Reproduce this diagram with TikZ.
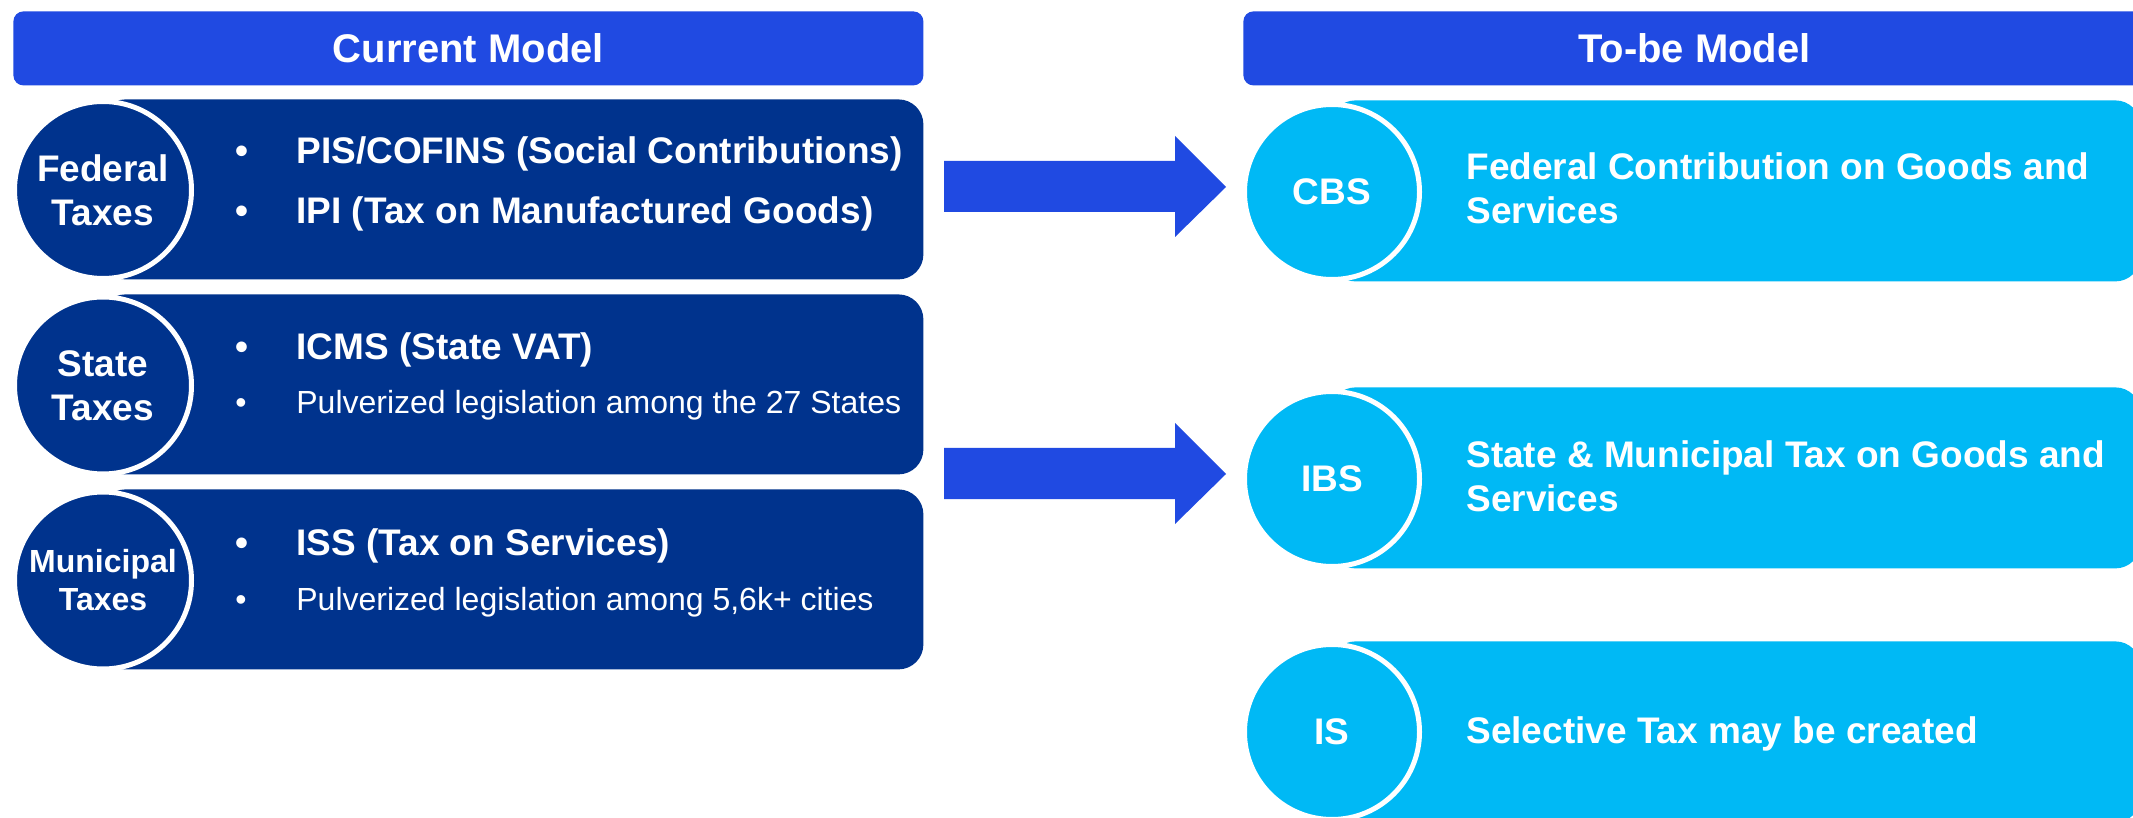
\documentclass[tikz,border=0pt]{standalone}
\usepackage{fontspec}
\setmainfont{Liberation Sans}
\definecolor{hdrblue}{RGB}{32,74,226}
\definecolor{navy}{RGB}{0,51,141}
\definecolor{cyanbox}{RGB}{0,185,245}
\begin{document}
\begin{tikzpicture}[x=0.5pt,y=-0.5pt,
  hdr/.style={fill=hdrblue, rounded corners=5pt, inner sep=0pt, text=white, anchor=north west,
    minimum height=37pt, font=\fontsize{20pt}{24pt}\selectfont\bfseries},
  bigbox/.style={rounded corners=12.5pt, inner sep=0pt, anchor=north west, minimum height=90pt},
  navybox/.style={bigbox, fill=navy, minimum width=411.5pt},
  cyanbox/.style={bigbox, fill=cyanbox, minimum width=405pt, minimum height=90.5pt},
  disc/.style={circle, draw=white, line width=2.5pt, inner sep=0pt, minimum size=88.5pt,
    text=white, align=center, font=\fontsize{18.5pt}{22pt}\selectfont\bfseries},
  navydisc/.style={disc, fill=navy},
  cyandisc/.style={disc, fill=cyanbox, minimum size=87.5pt},
  boldtxt/.style={anchor=base west, inner sep=0pt, text=white, font=\fontsize{18.5pt}{22pt}\selectfont\bfseries},
  regtxt/.style={anchor=base west, inner sep=0pt, text=white, font=\fontsize{16pt}{19pt}\selectfont},
  bulletb/.style={anchor=base, inner sep=0pt, text=white, font=\fontsize{18.5pt}{22pt}\selectfont\bfseries},
  bulletr/.style={anchor=base, inner sep=0pt, text=white, font=\fontsize{16pt}{19pt}\selectfont},
  blockarrow/.style={fill=hdrblue}
]
\clip (0,0) rectangle (2133,818);
\fill[white] (0,0) rectangle (2133,818);

% headers
\node[hdr, minimum width=455pt] (hcur) at (13,11) {Current Model};
\node[hdr, minimum width=451pt] (hnew) at (1243,11) {To-be Model};

% left boxes
\node[navybox] (fedbox) at (100,99) {};
\node[navybox] (statebox) at (100,294) {};
\node[navybox] (munbox) at (100,489) {};

% right boxes
\node[cyanbox] (cbsbox) at (1330,100) {};
\node[cyanbox] (ibsbox) at (1330,387) {};
\node[cyanbox] (isbox) at (1330,641) {};

% left discs
\node[navydisc] (fed) at (103,190) {Federal\\Taxes};
\node[navydisc] (state) at (103,385.5) {State\\Taxes};
\node[navydisc, font=\fontsize{16pt}{19pt}\selectfont\bfseries] (mun) at (103,580.5) {Municipal\\Taxes};

% right discs
\node[cyandisc] (cbs) at (1332,192) {CBS};
\node[cyandisc] (ibs) at (1332,479) {IBS};
\node[cyandisc] (is) at (1332,732) {IS};

% left texts
\node[bulletb] (b1) at (242,164) {•};
\node[boldtxt] (t1) at (296,164) {PIS/COFINS (Social Contributions)};
\node[bulletb] (b2) at (242,224) {•};
\node[boldtxt] (t2) at (296,224) {IPI (Tax on Manufactured Goods)};
\node[bulletb] (b3) at (242,360) {•};
\node[boldtxt] (t3) at (296,360) {ICMS (State VAT)};
\node[bulletr] (b4) at (241,414) {•};
\node[regtxt] (t4) at (296,414) {Pulverized legislation among the 27 States};
\node[bulletb] (b5) at (242,555) {•};
\node[boldtxt] (t5) at (296,555) {ISS (Tax on Services)};
\node[bulletr] (b6) at (241,610) {•};
\node[regtxt] (t6) at (296,610) {Pulverized legislation among 5,6k+ cities};

% right texts
\node[boldtxt] (r1) at (1466,180) {Federal Contribution on Goods and};
\node[boldtxt] (r1b) at (1466,224) {Services};
\node[boldtxt] (r2) at (1466,467) {State \& Municipal Tax on Goods and};
\node[boldtxt] (r2b) at (1466,511) {Services};
\node[boldtxt] (r3) at (1466,743) {Selective Tax may be created};

% block arrows
\fill[blockarrow] (944,161) -- (1175,161) -- (1175,136) -- (1226,187) -- (1175,237) -- (1175,212) -- (944,212) -- cycle;
\fill[blockarrow] (944,448) -- (1175,448) -- (1175,423) -- (1226,474) -- (1175,524) -- (1175,499) -- (944,499) -- cycle;
\end{tikzpicture}
\end{document}
